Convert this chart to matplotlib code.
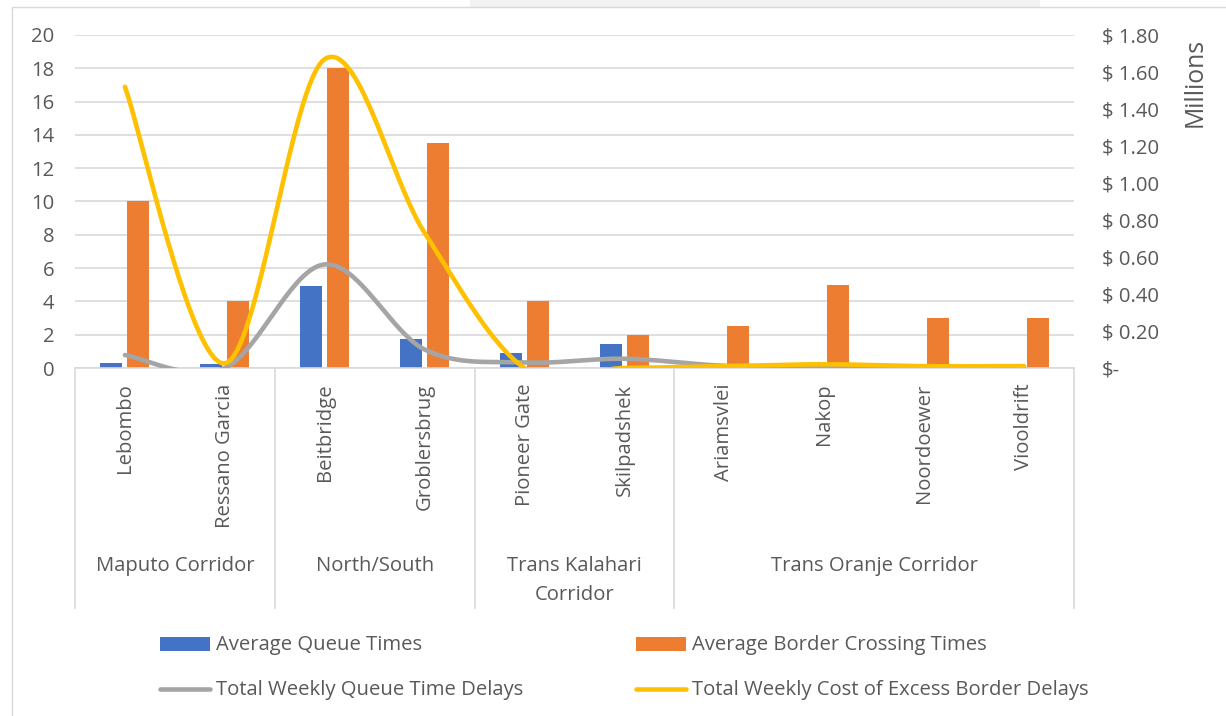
import numpy as np
import matplotlib
matplotlib.use("Agg")
import matplotlib.pyplot as plt
from matplotlib.patches import Rectangle
from matplotlib.lines import Line2D
import matplotlib.transforms as mtransforms

# ---------------- data ----------------
crossings = ["Lebombo", "Ressano Garcia", "Beitbridge", "Groblersbrug",
             "Pioneer Gate", "Skilpadshek", "Ariamsvlei", "Nakop",
             "Noordoewer", "Viooldrift"]
corridors = ["Maputo Corridor", "North/South", "Trans Kalahari\nCorridor",
             "Trans Oranje Corridor"]
corridor_sizes = [2, 2, 2, 4]

avg_queue = [0.3, 0.25, 4.95, 1.75, 0.9, 1.45, 0.2, 0.2, 0.1, 0.1]
avg_crossing = [10, 4, 18, 13.5, 4, 2, 2.5, 5, 3, 3]
# secondary axis, $ millions
weekly_queue_delay = [0.07, 0.0, 0.56, 0.10, 0.03, 0.05, 0.012, 0.006, 0.004, 0.004]
weekly_cost = [1.52, 0.025, 1.67, 0.73, 0.0, 0.0, 0.01, 0.02, 0.01, 0.01]

left_ticks = list(range(0, 21, 2))
right_ticks = [0, 0.2, 0.4, 0.6, 0.8, 1.0, 1.2, 1.4, 1.6, 1.8]
right_labels = ["$-"] + [f"$ {v:.2f}" for v in right_ticks[1:]]

# ---------------- style ----------------
BLUE = "#4472C4"
ORANGE = "#ED7D31"
GRAY = "#A5A5A5"
YELLOW = "#FFC000"
TXT = "#595959"
GRID = "#D9D9D9"
FONT = "Open Sans"
FS = 14.6

plt.rcParams["font.family"] = [FONT, "DejaVu Sans"]

W, H = 1226, 716
fig = plt.figure(figsize=(W / 100, H / 100), dpi=100)

# chart frame
fig.patches.append(Rectangle((470 / W, 1 - 7 / H), 570 / W, 7 / H, transform=fig.transFigure,
                             facecolor="#F2F2F2", edgecolor="none"))
fig.patches.append(Rectangle((12 / W, -0.01), 1.0, 1 - 7 / H + 0.01, transform=fig.transFigure,
                             facecolor="none", edgecolor=GRID, lw=1.0))

x0, x1, ytop, ybot = 75, 1074, 35, 368
ax = fig.add_axes([x0 / W, 1 - ybot / H, (x1 - x0) / W, (ybot - ytop) / H])
ax2 = ax.twinx()

n = len(crossings)
x = np.arange(n)
bw = 0.22
ax.bar(x - 0.135, avg_queue, width=bw, color=BLUE, zorder=2)
ax.bar(x + 0.135, avg_crossing, width=bw, color=ORANGE, zorder=2)


def excel_smooth(xs, ys, steps=40):
    xs = np.asarray(xs, float)
    ys = np.asarray(ys, float)
    P = np.column_stack([xs, ys])
    out = [P[0]]
    for i in range(len(P) - 1):
        p0 = P[i - 1] if i > 0 else P[i]
        p1 = P[i]
        p2 = P[i + 1]
        p3 = P[i + 2] if i + 2 < len(P) else P[i + 1]
        c1 = p1 + (p2 - p0) / 6.0
        c2 = p2 - (p3 - p1) / 6.0
        t = np.linspace(0, 1, steps)[1:, None]
        seg = ((1 - t) ** 3) * p1 + 3 * ((1 - t) ** 2) * t * c1 + 3 * (1 - t) * t ** 2 * c2 + t ** 3 * p2
        out.extend(seg)
    out = np.array(out)
    return out[:, 0], out[:, 1]


gx, gy = excel_smooth(x, weekly_queue_delay)
yx, yy = excel_smooth(x, weekly_cost)
ax2.plot(gx, gy, color=GRAY, lw=3.3, solid_capstyle="round", zorder=3)
ax2.plot(yx, yy, color=YELLOW, lw=3.3, solid_capstyle="round", zorder=4)

ax.set_xlim(-0.5, n - 0.5)
ax.set_ylim(0, 20)
ax2.set_ylim(0, 1.8)
ax.set_yticks(left_ticks)
ax.set_yticklabels([str(v) for v in left_ticks])
ax2.set_yticks(right_ticks)
ax2.set_yticklabels(right_labels)

ax.yaxis.grid(True, color=GRID, lw=1.2)
ax.set_axisbelow(True)
for a in (ax, ax2):
    for s in a.spines.values():
        s.set_visible(False)
ax.spines["bottom"].set_visible(True)
ax.spines["bottom"].set_color(GRID)
ax.spines["bottom"].set_linewidth(1.2)

ax.tick_params(axis="y", length=0, pad=15, labelsize=FS, labelcolor=TXT)
ax2.tick_params(axis="y", length=0, pad=20, labelsize=FS, labelcolor=TXT)
ax.set_xticks(x)
ax.set_xticklabels(crossings, rotation=90, fontsize=FS, color=TXT)
ax.tick_params(axis="x", length=0, pad=11)

ax2.text((1195 - x0) / (x1 - x0), (ybot - 38) / (ybot - ytop), "Millions", transform=ax2.transAxes,
         rotation=90, ha="center", va="top", fontsize=FS * 1.22, color=TXT)

# multi-level category separators and group labels
trans = mtransforms.blended_transform_factory(ax.transData, ax.transAxes)
ybot_line = -(608 - ybot) / (ybot - ytop)
bounds = np.concatenate([[0], np.cumsum(corridor_sizes)]) - 0.5
for b in bounds:
    ax.add_line(Line2D([b, b], [0, ybot_line], transform=trans, color=GRID, lw=1.2, clip_on=False))
for i, name in enumerate(corridors):
    cx = (bounds[i] + bounds[i + 1]) / 2
    ax.text(cx, -(556 - ybot) / (ybot - ytop), name, transform=trans, ha="center", va="top",
            fontsize=FS, color=TXT, linespacing=1.6)

# legend
def fx(px):
    return px / W


def fy(py):
    return 1 - py / H


fig.patches.append(Rectangle((fx(160), fy(651)), 50 / W, 14 / H, transform=fig.transFigure,
                             facecolor=BLUE, edgecolor="none"))
fig.patches.append(Rectangle((fx(636), fy(651)), 50 / W, 14 / H, transform=fig.transFigure,
                             facecolor=ORANGE, edgecolor="none"))
fig.lines.append(Line2D([fx(160), fx(210)], [fy(689), fy(689)], transform=fig.transFigure,
                        color=GRAY, lw=3.3, solid_capstyle="round"))
fig.lines.append(Line2D([fx(636), fx(686)], [fy(689), fy(689)], transform=fig.transFigure,
                        color=YELLOW, lw=3.3, solid_capstyle="round"))
fig.text(fx(216), fy(645), "Average Queue Times", ha="left", va="center", fontsize=FS, color=TXT)
fig.text(fx(692), fy(645), "Average Border Crossing Times", ha="left", va="center", fontsize=FS, color=TXT)
fig.text(fx(216), fy(690), "Total Weekly Queue Time Delays", ha="left", va="center", fontsize=FS, color=TXT)
fig.text(fx(692), fy(690), "Total Weekly Cost of Excess Border Delays", ha="left", va="center", fontsize=FS, color=TXT)

fig.savefig("out.png", dpi=100)
